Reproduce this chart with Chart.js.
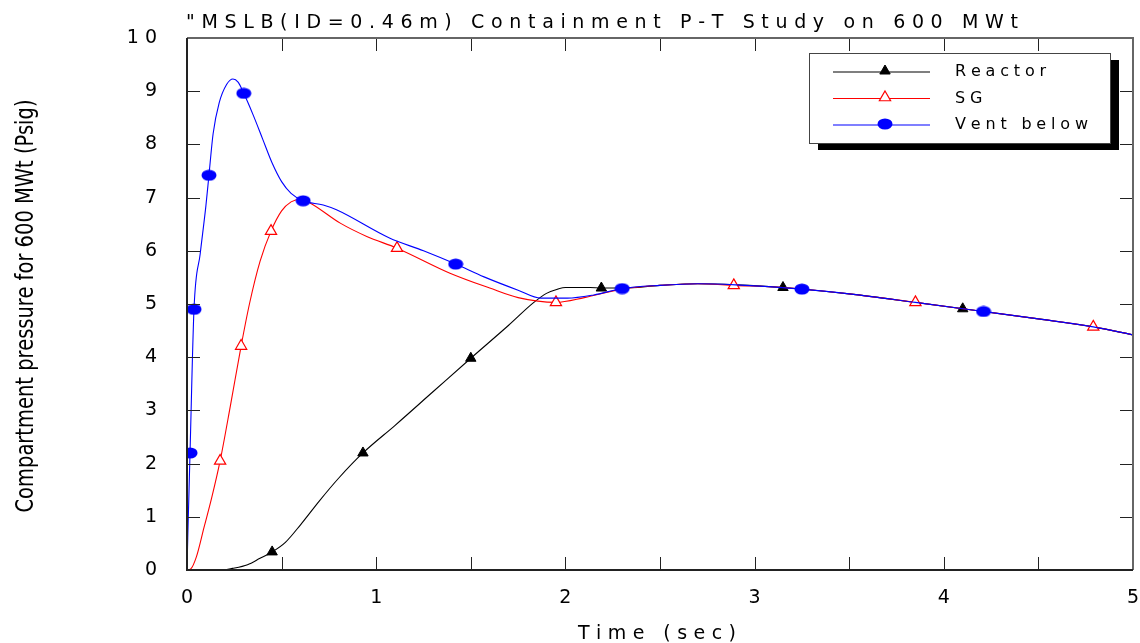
<!DOCTYPE html>
<html>
<head>
<meta charset="utf-8">
<title>MSLB Containment P-T Study</title>
<script src="https://cdn.jsdelivr.net/npm/chart.js@4.4.1/dist/chart.umd.min.js"></script>
<style>
  html, body { margin: 0; padding: 0; background: #fff; }
</style>
</head>
<body>
<canvas id="myChart" width="1140" height="643"></canvas>
<script>
// time (sec) / pressure (psig) for each compartment
const reactorT = [0, 0.185, 0.24, 0.32, 0.386, 0.45, 0.52, 0.6, 0.7, 0.8, 0.93, 1.1, 1.3, 1.5, 1.7, 1.83, 1.9, 1.96, 2.0, 2.13, 2.19, 2.3, 2.5, 2.7, 2.9, 3.15, 3.5, 3.85, 4.1, 4.5, 4.79, 5.0];
const reactorP = [0, 0, 0.03, 0.1, 0.22, 0.34, 0.52, 0.85, 1.3, 1.72, 2.2, 2.72, 3.35, 3.98, 4.6, 5.02, 5.2, 5.28, 5.31, 5.31, 5.3, 5.3, 5.35, 5.38, 5.36, 5.31, 5.19, 5.03, 4.91, 4.72, 4.57, 4.42];
const reactorMarks = [0.45, 0.93, 1.5, 2.19, 3.15, 4.1];

const sgT = [0, 0.02, 0.05, 0.09, 0.13, 0.175, 0.23, 0.286, 0.33, 0.386, 0.444, 0.5, 0.55, 0.6, 0.65, 0.81, 0.95, 1.11, 1.39, 1.6, 1.75, 1.95, 2.1, 2.3, 2.5, 2.7, 2.89, 3.15, 3.5, 3.85, 4.21, 4.5, 4.79, 5.0];
const sgP = [0, 0.02, 0.25, 0.8, 1.35, 2.05, 3.1, 4.21, 5.0, 5.8, 6.37, 6.75, 6.92, 6.97, 6.9, 6.52, 6.27, 6.05, 5.58, 5.3, 5.12, 5.03, 5.12, 5.28, 5.35, 5.38, 5.35, 5.31, 5.19, 5.03, 4.86, 4.72, 4.57, 4.42];
const sgMarks = [0.175, 0.286, 0.444, 1.11, 1.95, 2.89, 3.85, 4.79];

const ventT = [0, 0.004, 0.016, 0.037, 0.07, 0.1, 0.116, 0.138, 0.17, 0.21, 0.243, 0.27, 0.3, 0.35, 0.4, 0.45, 0.5, 0.55, 0.614, 0.72, 0.79, 1.07, 1.25, 1.42, 1.57, 1.75, 1.87, 2.01, 2.15, 2.3, 2.5, 2.7, 2.9, 3.25, 3.5, 3.85, 4.21, 4.5, 4.79, 5.0];
const ventP = [0, 0.6, 2.2, 4.9, 5.95, 6.85, 7.42, 8.2, 8.78, 9.13, 9.23, 9.17, 8.96, 8.55, 8.1, 7.65, 7.3, 7.08, 6.94, 6.86, 6.77, 6.24, 6.0, 5.75, 5.51, 5.26, 5.11, 5.11, 5.17, 5.29, 5.35, 5.38, 5.36, 5.28, 5.19, 5.03, 4.86, 4.72, 4.57, 4.42];
const ventMarks = [0.016, 0.037, 0.116, 0.3, 0.614, 1.42, 2.3, 3.25, 4.21];

const titleText = '"MSLB(ID=0.46m) Containment P-T Study on 600 MWt';
const xTitle = 'Time (sec)';
const yTitle = 'Compartment pressure for 600 MWt (Psig)';

const FONT = '"DejaVu Sans", sans-serif';

// flattened blue dot
function ovalDot(color) {
  const c = document.createElement('canvas');
  c.width = 16; c.height = 12;
  const g = c.getContext('2d');
  g.fillStyle = color;
  g.beginPath();
  g.ellipse(8, 6, 7.5, 5.5, 0, 0, Math.PI * 2);
  g.fill();
  return c;
}
const blueDot = ovalDot('#0000ff');

function toXY(ts, ps) {
  return ts.map((t, i) => ({ x: t, y: ps[i] }));
}
function markRadius(marks, r) {
  return ctx => (ctx.raw && marks.includes(ctx.raw.x)) ? r : 0;
}

// spread the characters of a string over a fixed width, one glyph at a time
function gap(ctx, text, width) {
  let w = 0;
  for (const ch of text) w += ctx.measureText(ch).width;
  return (width - w) / (text.length - 1);
}
function spreadText(ctx, text, x, y, g) {
  let cx = x;
  for (const ch of text) {
    ctx.fillText(ch, cx, y);
    cx += ctx.measureText(ch).width + g;
  }
}
function spacedText(ctx, text, x, y, font, width, align) {
  ctx.save();
  ctx.font = font;
  ctx.textAlign = 'left';
  ctx.textBaseline = 'alphabetic';
  const g = gap(ctx, text, width);
  spreadText(ctx, text, align === 'center' ? x - width / 2 : x, y, g);
  ctx.restore();
}

const frameTicks = {
  id: 'frameTicks',
  afterDatasetsDraw(chart) {
    const { ctx, chartArea: a, scales: { x, y } } = chart;
    ctx.save();
    ctx.strokeStyle = '#222';
    ctx.lineWidth = 1;
    ctx.beginPath();
    x.ticks.forEach(t => {
      const px = Math.round(x.getPixelForValue(t.value)) + 0.5;
      ctx.moveTo(px, a.bottom); ctx.lineTo(px, a.bottom - 13);
      ctx.moveTo(px, a.top); ctx.lineTo(px, a.top + 13);
    });
    y.ticks.forEach(t => {
      const py = Math.round(y.getPixelForValue(t.value)) + 0.5;
      ctx.moveTo(a.left, py); ctx.lineTo(a.left + 13, py);
      ctx.moveTo(a.right, py); ctx.lineTo(a.right - 13, py);
    });
    ctx.stroke();
    // top/right in grey, left/bottom darker
    ctx.lineWidth = 2;
    ctx.strokeStyle = '#666';
    ctx.beginPath();
    ctx.moveTo(a.left, a.top); ctx.lineTo(a.right, a.top); ctx.lineTo(a.right, a.bottom);
    ctx.stroke();
    ctx.strokeStyle = '#222';
    ctx.beginPath();
    ctx.moveTo(a.left, a.top); ctx.lineTo(a.left, a.bottom); ctx.lineTo(a.right, a.bottom);
    ctx.stroke();
    ctx.restore();
  },
  afterDraw(chart) {
    const ctx = chart.ctx;
    ctx.fillStyle = '#000';
    spacedText(ctx, titleText, 186, 28, '19px ' + FONT, 832, 'left');
    spacedText(ctx, xTitle, 657, 639, '19px ' + FONT, 158, 'center');

    // rotated, condensed y title
    ctx.save();
    ctx.translate(33, 306);
    ctx.rotate(-Math.PI / 2);
    ctx.font = '24px ' + FONT;
    const w = ctx.measureText(yTitle).width;
    ctx.scale(413 / w, 1);
    ctx.textAlign = 'center';
    ctx.textBaseline = 'alphabetic';
    ctx.fillText(yTitle, 0, 0);
    ctx.restore();
  }
};

// boxed legend with drop shadow, line + marker per series
const boxLegend = {
  id: 'boxLegend',
  afterDraw(chart) {
    const ctx = chart.ctx;
    const bx = 809, by = 53, bw = 301, bh = 90;
    ctx.save();
    ctx.fillStyle = '#000';
    ctx.fillRect(bx + 9, by + 7, bw, bh);
    ctx.fillStyle = '#fff';
    ctx.fillRect(bx, by, bw, bh);
    ctx.strokeStyle = '#444';
    ctx.lineWidth = 1;
    ctx.strokeRect(bx + 0.5, by + 0.5, bw, bh);

    chart.data.datasets.forEach((ds, i) => {
      const ly = by + 19 + i * 26.5;
      ctx.strokeStyle = ds.borderColor;
      ctx.lineWidth = 1.2;
      ctx.beginPath();
      ctx.moveTo(bx + 24, ly); ctx.lineTo(bx + 121, ly);
      ctx.stroke();
      ctx.fillStyle = ds.pointBackgroundColor;
      ctx.strokeStyle = ds.pointBorderColor;
      ctx.lineWidth = ds.pointBorderWidth;
      Chart.helpers.drawPoint(ctx, {
        pointStyle: ds.pointStyle, radius: ds.legendRadius,
        borderWidth: ds.pointBorderWidth, rotation: 0
      }, bx + 76, ly - 1);
    });
    ctx.fillStyle = '#000';
    ctx.font = '16px ' + FONT;
    ctx.textAlign = 'left';
    ctx.textBaseline = 'middle';
    const g = gap(ctx, 'Vent below', 133);
    chart.data.datasets.forEach((ds, i) => {
      spreadText(ctx, ds.label, bx + 146, by + 19 + i * 26.5, g);
    });
    ctx.restore();
  }
};

Chart.defaults.font.family = FONT;
Chart.defaults.color = '#000';

const myChart = new Chart(document.getElementById('myChart'), {
  type: 'line',
  data: {
    datasets: [
      {
        label: 'Reactor',
        data: toXY(reactorT, reactorP),
        borderColor: '#000000',
        borderWidth: 1.1,
        pointStyle: 'triangle',
        pointBackgroundColor: '#000000',
        pointBorderColor: '#000000',
        pointBorderWidth: 1,
        pointRadius: markRadius(reactorMarks, 6),
        legendRadius: 6,
        cubicInterpolationMode: 'monotone',
        order: 2
      },
      {
        label: 'SG',
        data: toXY(sgT, sgP),
        borderColor: '#ff0000',
        borderWidth: 1.1,
        pointStyle: 'triangle',
        pointBackgroundColor: '#ffffff',
        pointBorderColor: '#ff0000',
        pointBorderWidth: 1.2,
        pointRadius: markRadius(sgMarks, 6.5),
        legendRadius: 6.5,
        cubicInterpolationMode: 'monotone',
        order: 1
      },
      {
        label: 'Vent below',
        data: toXY(ventT, ventP),
        borderColor: '#0000ff',
        borderWidth: 1.1,
        pointStyle: blueDot,
        pointBackgroundColor: '#0000ff',
        pointBorderColor: '#0000ff',
        pointBorderWidth: 0,
        pointRadius: markRadius(ventMarks, 6),
        legendRadius: 6,
        cubicInterpolationMode: 'monotone',
        order: 0
      }
    ]
  },
  options: {
    responsive: false,
    animation: false,
    events: [],
    layout: { padding: { top: 38, right: 7, left: 0, bottom: 0 } },
    plugins: {
      legend: { display: false },
      title: { display: false },
      tooltip: { enabled: false }
    },
    scales: {
      x: {
        type: 'linear',
        min: 0, max: 5,
        afterFit: s => { s.height = 73; s.paddingLeft = 0; s.paddingRight = 0; },
        grid: { display: false, drawTicks: false },
        border: { display: false },
        ticks: {
          stepSize: 0.5,
          autoSkip: false,
          maxRotation: 0,
          padding: 17,
          font: { size: 19 },
          callback: v => Number.isInteger(v) ? String(v) : ''
        }
      },
      y: {
        type: 'linear',
        min: 0, max: 10,
        afterFit: s => { s.width = 187; s.paddingTop = 0; s.paddingBottom = 0; },
        grid: { display: false, drawTicks: false },
        border: { display: false },
        ticks: {
          stepSize: 1,
          padding: 30,
          font: { size: 19 },
          callback: v => String(v).split('').join(' ')
        }
      }
    }
  },
  plugins: [frameTicks, boxLegend]
});
</script>
</body>
</html>
